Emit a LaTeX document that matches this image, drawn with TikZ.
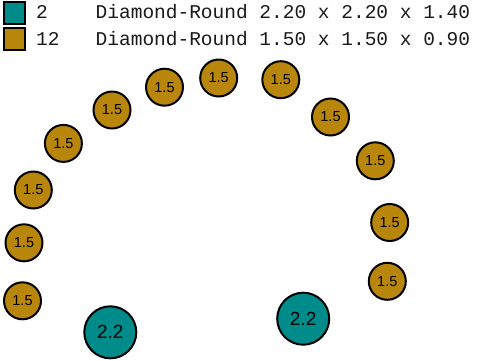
\documentclass[tikz,border=0pt]{standalone}
\usepackage{fontspec}
\setmainfont{Liberation Sans}
\newfontfamily\monof{Liberation Mono}
\definecolor{tealc}{RGB}{0,139,139}
\definecolor{goldc}{RGB}{184,134,11}
\tikzset{
  smallhole/.style={circle,draw=black,line width=2pt,fill=goldc,minimum size=37pt,inner sep=0pt,
    font=\fontsize{14.5}{14.5}\selectfont},
  bighole/.style={circle,draw=black,line width=2pt,fill=tealc,minimum size=52pt,inner sep=0pt,
    font=\fontsize{19}{19}\selectfont},
  legsq/.style={rectangle,draw=black,line width=2pt,minimum size=21.3pt,inner sep=0pt},
  legtxt/.style={anchor=base west,inner sep=0pt,font=\monof\fontsize{19.5}{19.5}\selectfont,text=black!90}
}
\begin{document}
\begin{tikzpicture}[x=1pt,y=-1pt]
\useasboundingbox (0,0) rectangle (480,360);
% legend
\node[legsq,fill=tealc] (sq1) at (14.35,12.85) {};
\node[legsq,fill=goldc] (sq2) at (14.35,39) {};
\node[legtxt] (n1) at (36,18.3) {2};
\node[legtxt] (n2) at (36,45) {12};
\node[legtxt] (d1) at (95.5,18.3) {Diamond-Round 2.20 x 2.20 x 1.40};
\node[legtxt] (d2) at (95.5,45) {Diamond-Round 1.50 x 1.50 x 0.90};
% small holes
\node[smallhole] (g1) at (22.5,300.8) {1.5};
\node[smallhole] (g2) at (24,242.8) {1.5};
\node[smallhole] (g3) at (33.3,190) {1.5};
\node[smallhole] (g4) at (63.4,143.4) {1.5};
\node[smallhole] (g5) at (112,110) {1.5};
\node[smallhole] (g6) at (164.5,87.2) {1.5};
\node[smallhole] (g7) at (218.7,78) {1.5};
\node[smallhole] (g8) at (280.8,79.7) {1.5};
\node[smallhole] (g9) at (330.5,117) {1.5};
\node[smallhole] (g10) at (375.3,160.8) {1.5};
\node[smallhole] (g11) at (389.7,222.5) {1.5};
\node[smallhole] (g12) at (387.3,281.3) {1.5};
% big holes
\node[bighole] (t1) at (110.3,332.3) {2.2};
\node[bighole] (t2) at (303.2,318.7) {2.2};
\end{tikzpicture}
\end{document}
